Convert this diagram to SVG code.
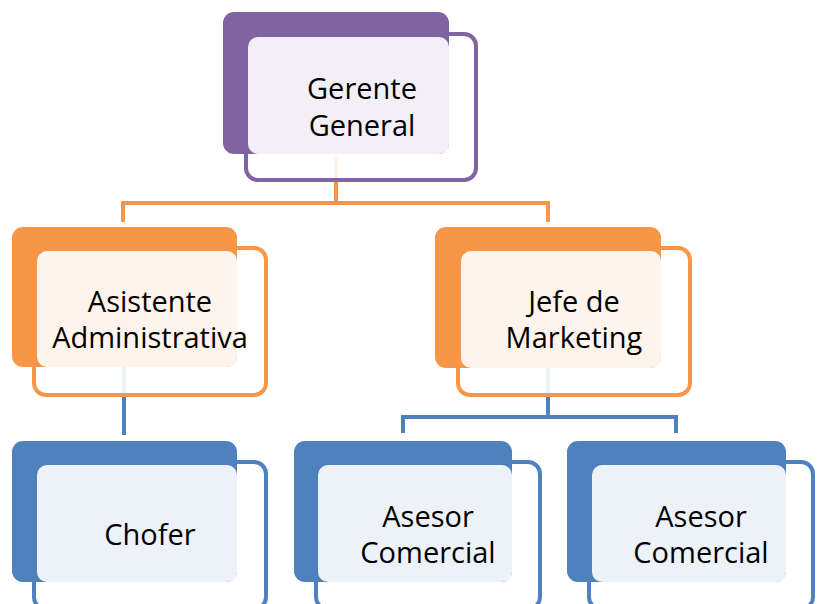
<svg xmlns="http://www.w3.org/2000/svg" width="820" height="604" viewBox="0 0 820 604">
<style>
.t{font-family:"Open Sans","Noto Sans","DejaVu Sans",sans-serif;font-size:29px;fill:#000;text-anchor:middle}
.ol{fill:#fff;fill-opacity:0.9;stroke-width:4}
.conn{fill:none;stroke-width:4}
.pu .bk{fill:#8064a2}.pu .ol{stroke:#8064a2}.pu .lt{fill:#f2f0f6}
.or .bk{fill:#f79646}.or .ol{stroke:#f79646}.or .lt{fill:#fef4eb}
.bl .bk{fill:#4f81bd}.bl .ol{stroke:#4f81bd}.bl .lt{fill:#edf2f9}
</style>
<rect width="820" height="604" fill="#fff"/>
<g id="connectors">
<path class="conn" stroke="#f79646" d="M336,154 V203 M123,222 V203 H548 V222"/>
<path class="conn" stroke="#4f81bd" d="M124,367 V435 M548,368 V417 M403,433 V417 H676 V433"/>
</g>
<g id="gerente" class="pu">
<rect class="ol" x="246" y="34" width="230" height="146" rx="12"/>
<rect class="bk" x="223" y="12" width="226" height="142" rx="11"/>
<rect class="lt" x="248" y="37" width="201" height="117" rx="10"/>
<text class="t" x="362" y="99">Gerente</text>
<text class="t" x="362" y="136">General</text>
</g>
<g id="asistente" class="or">
<rect class="ol" x="34" y="248" width="232" height="147" rx="12"/>
<rect class="bk" x="12" y="227" width="225" height="140" rx="11"/>
<rect class="lt" x="37" y="251" width="200" height="116" rx="10"/>
<text class="t" x="150" y="312">Asistente</text>
<text class="t" x="150" y="348">Administrativa</text>
</g>
<g id="jefe" class="or">
<rect class="ol" x="458" y="248" width="232" height="147" rx="12"/>
<rect class="bk" x="435" y="227" width="226" height="141" rx="11"/>
<rect class="lt" x="461" y="251" width="200" height="117" rx="10"/>
<text class="t" x="574" y="312">Jefe de</text>
<text class="t" x="574" y="348">Marketing</text>
</g>
<g id="chofer" class="bl">
<rect class="ol" x="34" y="462" width="232" height="147" rx="12"/>
<rect class="bk" x="12" y="441" width="225" height="141" rx="11"/>
<rect class="lt" x="37" y="465" width="200" height="117" rx="10"/>
<text class="t" x="150" y="545">Chofer</text>
</g>
<g id="asesor1" class="bl">
<rect class="ol" x="316" y="462" width="224" height="147" rx="12"/>
<rect class="bk" x="294" y="441" width="218" height="141" rx="11"/>
<rect class="lt" x="318" y="465" width="194" height="117" rx="10"/>
<text class="t" x="428" y="527">Asesor</text>
<text class="t" x="428" y="563">Comercial</text>
</g>
<g id="asesor2" class="bl">
<rect class="ol" x="589" y="462" width="224" height="147" rx="12"/>
<rect class="bk" x="567" y="441" width="219" height="141" rx="11"/>
<rect class="lt" x="592" y="465" width="194" height="117" rx="10"/>
<text class="t" x="701" y="527">Asesor</text>
<text class="t" x="701" y="563">Comercial</text>
</g>
</svg>
